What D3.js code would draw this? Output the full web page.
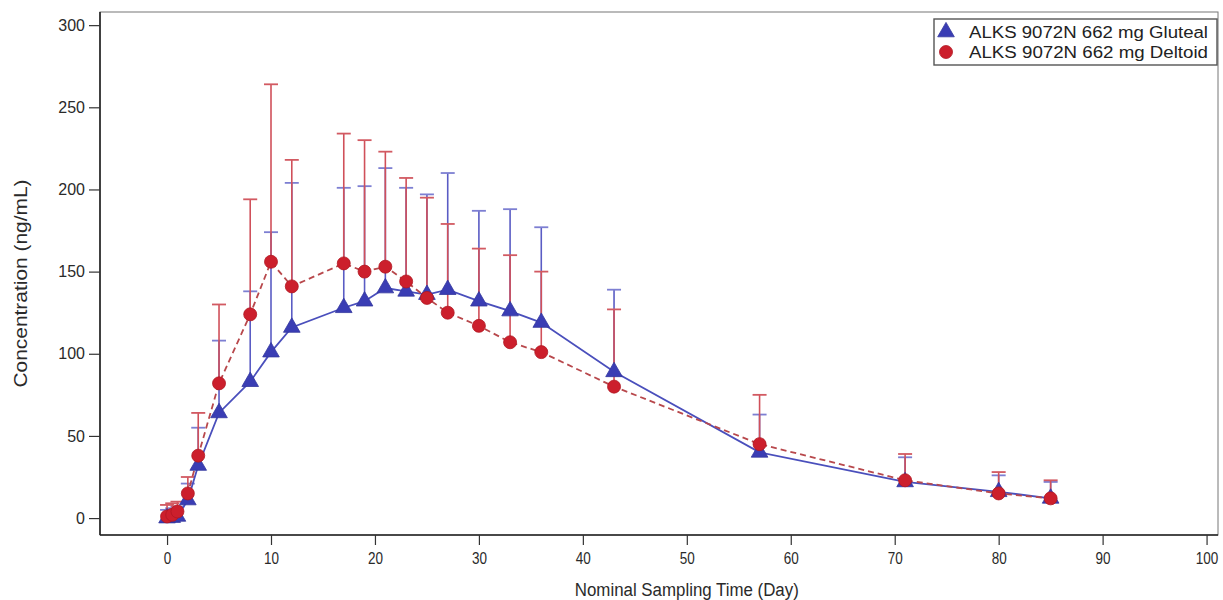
<!DOCTYPE html>
<html>
<head>
<meta charset="utf-8">
<script src="https://cdn.jsdelivr.net/npm/d3@7"></script>
<style>
  html, body { margin: 0; padding: 0; background: #fff; }
  svg { display: block; font-family: Arial, "Liberation Sans", sans-serif; }
</style>
</head>
<body>
<svg id="chart" width="1223" height="600"></svg>
<script>
// Nominal sampling days
const days = [0, 0.5, 1, 2, 3, 5, 8, 10, 12, 17, 19, 21, 23, 25, 27, 30, 33, 36, 43, 57, 71, 80, 85];

// Gluteal: mean and mean + SD (ng/mL)
const glutealMean = [0, 0.3, 1, 11, 32, 64, 83, 101, 116, 128, 132, 140, 138, 136, 139, 132, 126, 119, 89, 40, 22, 16, 12];
const glutealUpper = [5, 6, 7, 21, 55, 108, 138, 174, 204, 201, 202, 213, 201, 197, 210, 187, 188, 177, 139, 63, 37, 26, 22];

// Deltoid: mean and mean + SD (ng/mL)
const deltoidMean = [1, 2, 4, 15, 38, 82, 124, 156, 141, 155, 150, 153, 144, 134, 125, 117, 107, 101, 80, 45, 23, 15, 12];
const deltoidUpper = [8, 9, 10, 25, 64, 130, 194, 264, 218, 234, 230, 223, 207, 195, 179, 164, 160, 150, 127, 75, 39, 28, 23];

const xTicks = [0, 10, 20, 30, 40, 50, 60, 70, 80, 90, 100];
const yTicks = [0, 50, 100, 150, 200, 250, 300];

const seriesNames = ["ALKS 9072N 662 mg Gluteal", "ALKS 9072N 662 mg Deltoid"];

const gluteal = days.map((d, i) => ({ t: d, mean: glutealMean[i], upper: glutealUpper[i] }));
const deltoid = days.map((d, i) => ({ t: d, mean: deltoidMean[i], upper: deltoidUpper[i] }));

const svg = d3.select("#chart");
const plot = { left: 100, right: 1218, top: 12, bottom: 535 };

const x = d3.scaleLinear().domain([-6.45, 101.1]).range([plot.left, plot.right]);
const y = d3.scaleLinear().domain([-10.3, 308]).range([plot.bottom, plot.top]);

const blue = "#3a3db4", red = "#cc1f2c";

// frame: light top/right, dark left/bottom
svg.append("rect")
  .attr("x", plot.left).attr("y", plot.top)
  .attr("width", plot.right - plot.left).attr("height", plot.bottom - plot.top)
  .attr("fill", "none").attr("stroke", "#777").attr("stroke-width", 1);

// axes
const yAxis = d3.axisLeft(y).tickValues(yTicks).tickSize(11).tickPadding(4).tickSizeOuter(0);
const gy = svg.append("g").attr("transform", `translate(${plot.left},0)`).call(yAxis);
const xAxis = d3.axisBottom(x).tickValues(xTicks).tickSize(10).tickPadding(8).tickSizeOuter(0);
const gx = svg.append("g").attr("transform", `translate(0,${plot.bottom})`).call(xAxis);

[gx, gy].forEach(g => {
  g.select(".domain").attr("stroke", "#222").attr("stroke-width", 1.6);
  g.selectAll(".tick line").attr("stroke", "#333").attr("stroke-width", 1.2);
  g.selectAll(".tick text").attr("fill", "#2a2a2a").attr("font-size", 16)
    .attr("font-family", "Arial, 'Liberation Sans', sans-serif");
});
gx.select(".domain").attr("d", `M${plot.left},0H${plot.right}`);
gy.select(".domain").attr("d", `M0,${plot.bottom}V${plot.top}`);
// x tick labels are set in a narrow face
gx.selectAll(".tick text")
  .attr("textLength", d => String(d).length * 7.5).attr("lengthAdjust", "spacingAndGlyphs");

// axis titles
svg.append("text")
  .attr("x", x(50)).attr("y", 596)
  .attr("text-anchor", "middle").attr("font-size", 18).attr("fill", "#2a2a2a")
  .attr("textLength", 224).attr("lengthAdjust", "spacingAndGlyphs")
  .text("Nominal Sampling Time (Day)");

svg.append("text")
  .attr("transform", `translate(27,${(plot.top + plot.bottom) / 2 + 10}) rotate(-90)`)
  .attr("text-anchor", "middle").attr("font-size", 18).attr("fill", "#2a2a2a")
  .attr("textLength", 208).attr("lengthAdjust", "spacingAndGlyphs")
  .text("Concentration (ng/mL)");

// error bars (mean up to mean + SD)
const capW = 7;
function errorBars(data, stem, cap) {
  const g = svg.append("g");
  g.selectAll("line.stem").data(data).join("line")
    .attr("x1", d => x(d.t)).attr("x2", d => x(d.t))
    .attr("y1", d => y(d.mean)).attr("y2", d => y(d.upper))
    .attr("stroke", stem).attr("stroke-width", 1.6);
  g.selectAll("line.cap").data(data).join("line")
    .attr("x1", d => x(d.t) - capW).attr("x2", d => x(d.t) + capW)
    .attr("y1", d => y(d.upper)).attr("y2", d => y(d.upper))
    .attr("stroke", cap).attr("stroke-width", 1.8);
}
errorBars(gluteal, "#5a5cc4", "#7d7fd2");
errorBars(deltoid, "#d0505a", "#d25a62");

// mean profiles
const line = d3.line().x(d => x(d.t)).y(d => y(d.mean));
svg.append("path").datum(gluteal).attr("d", line)
  .attr("fill", "none").attr("stroke", "#4a4fbc").attr("stroke-width", 1.8);
svg.append("path").datum(deltoid).attr("d", line)
  .attr("fill", "none").attr("stroke", "#b8484c").attr("stroke-width", 1.8)
  .attr("stroke-dasharray", "6,4");

// markers
const tri = d3.symbol().type(d3.symbolTriangle).size(120);
svg.append("g").selectAll("path").data(gluteal).join("path")
  .attr("d", tri)
  .attr("transform", d => `translate(${x(d.t)},${y(d.mean)})`)
  .attr("fill", blue).attr("stroke", "#34379e").attr("stroke-width", 0.8);

svg.append("g").selectAll("circle").data(deltoid).join("circle")
  .attr("cx", d => x(d.t)).attr("cy", d => y(d.mean)).attr("r", 6.5)
  .attr("fill", red).attr("stroke", "#b01822").attr("stroke-width", 0.8);

// legend
const lg = svg.append("g");
lg.append("rect").attr("x", 934).attr("y", 19).attr("width", 283).attr("height", 46)
  .attr("fill", "#fff").attr("stroke", "#555").attr("stroke-width", 1.4);
const rows = [
  { name: seriesNames[0], shape: "tri", cy: 32 },
  { name: seriesNames[1], shape: "circle", cy: 52 }
];
rows.forEach(r => {
  if (r.shape === "tri") {
    lg.append("path").attr("d", tri).attr("transform", `translate(946,${r.cy})`)
      .attr("fill", blue).attr("stroke", "#34379e").attr("stroke-width", 0.8);
  } else {
    lg.append("circle").attr("cx", 946).attr("cy", r.cy).attr("r", 6.5)
      .attr("fill", red).attr("stroke", "#b01822").attr("stroke-width", 0.8);
  }
  lg.append("text").attr("x", 969).attr("y", r.cy + 6)
    .attr("font-size", 16).attr("fill", "#222")
    .attr("textLength", 239).attr("lengthAdjust", "spacingAndGlyphs")
    .text(r.name);
});
</script>
</body>
</html>
